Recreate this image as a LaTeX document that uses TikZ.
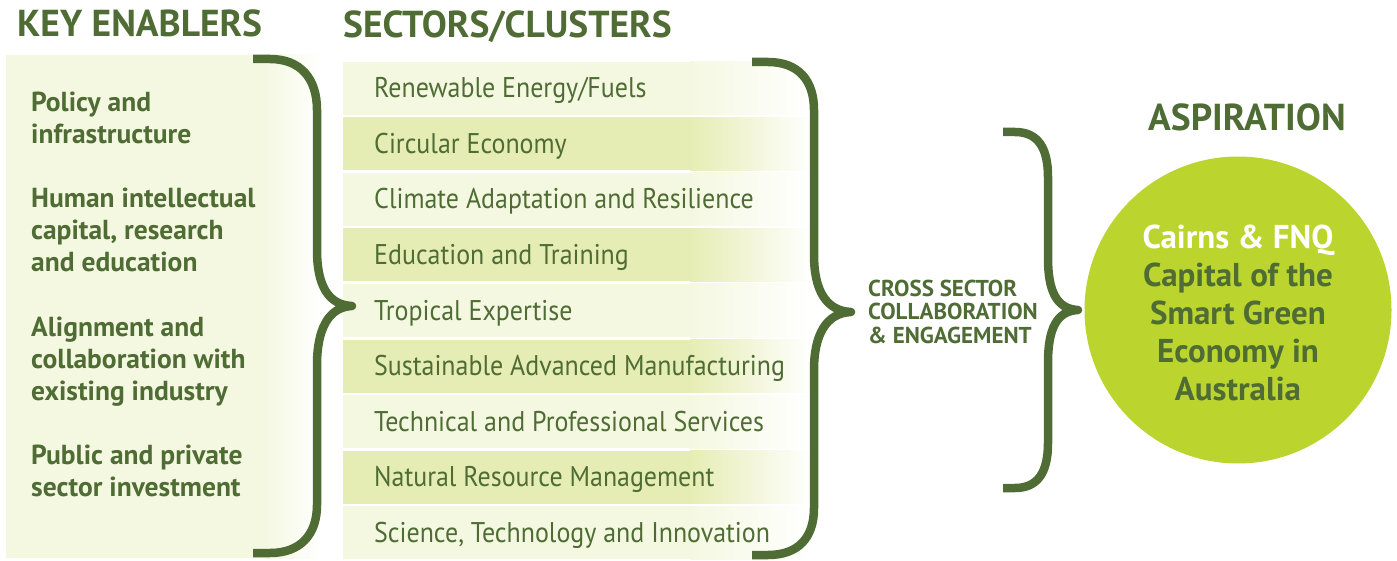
\documentclass[tikz,border=0pt]{standalone}
\usepackage{fontspec}
\setmainfont{PT Sans}
\newfontfamily\sectorfont[FakeStretch=0.91]{PT Sans}
\definecolor{dgreen}{RGB}{78,108,52}
\definecolor{panel}{RGB}{245,248,225}
\definecolor{rowdark}{RGB}{230,237,180}
\definecolor{lime}{RGB}{187,213,46}
\tikzset{
  header/.style={text=dgreen,font=\bfseries\fontsize{37.5}{37.5}\selectfont,inner sep=0pt,anchor=base west},
  enabler/.style={text=dgreen,font=\bfseries\fontsize{27.5}{32}\selectfont,inner sep=0pt,anchor=base west,align=left},
  sectortext/.style={text=dgreen,font=\sectorfont\fontsize{28.5}{28.5}\selectfont,inner sep=0pt,anchor=base west},
  crosstext/.style={text=dgreen,font=\bfseries\fontsize{23}{23.5}\selectfont,inner sep=0pt,anchor=base west,align=left},
  aimtext/.style={text=dgreen,font=\bfseries\fontsize{33}{38}\selectfont,inner sep=0pt,anchor=base,align=center},
  bracestroke/.style={draw=dgreen,line width=8.5pt,line cap=butt,line join=round},
}
\begin{document}
\begin{tikzpicture}[x=1pt,y=-1pt]
\useasboundingbox (0,0) rectangle (1397,561);
% enabler panel
\fill[panel] (6,55) rectangle (266,558);
\shade[left color=panel,right color=white] (265,55) rectangle (322,558);
% sector rows
\foreach \i/\c/\t in {0/panel/{Renewable Energy/Fuels},1/rowdark/{Circular Economy},2/panel/{Climate Adaptation and Resilience},3/rowdark/{Education and Training},4/panel/{Tropical Expertise},5/rowdark/{Sustainable Advanced Manufacturing},6/panel/{Technical and Professional Services},7/rowdark/{Natural Resource Management},8/panel/{Science, Technology and Innovation}}{
  \fill[\c] (343,{62+55.5*\i}) rectangle (691,{115+55.5*\i});
  \shade[left color=\c,right color=white] (690,{62+55.5*\i}) rectangle (812,{115+55.5*\i});
  \node[sectortext] (s\i) at (374,{98+55.5*\i}) {\t};
}
% headers
\node[header] (hkey) at (17,37) {KEY ENABLERS};
\node[header] (hsec) at (343,38) {SECTORS/CLUSTERS};
\node[header] (hasp) at (1148,131) {ASPIRATION};
% enablers (anchored at the baseline of the last line)
\node[enabler] (e1) at (31,144) {Policy and\\infrastructure};
\node[enabler] (e2) at (31,272) {Human intellectual\\capital, research\\and education};
\node[enabler] (e3) at (31,400) {Alignment and\\collaboration with\\existing industry};
\node[enabler] (e4) at (31,496) {Public and private\\sector investment};
% braces
\draw[bracestroke] (253,59) -- (270,59) .. controls (300,59) and (317,78) .. (317,110)
  -- (317,250) .. controls (317,285) and (328,305) .. (352,306)
  .. controls (328,307) and (317,330) .. (317,365)
  -- (317,505) .. controls (317,535) and (300,553) .. (270,553) -- (253,553);
\draw[bracestroke] (752,62) -- (768,62) .. controls (798,62) and (814,80) .. (814,110)
  -- (814,255) .. controls (814,290) and (826,311) .. (851,312)
  .. controls (826,313) and (814,335) .. (814,370)
  -- (814,508) .. controls (814,538) and (798,555) .. (768,555) -- (752,555);
\draw[bracestroke] (1003,132) -- (1015,132) .. controls (1038,132) and (1048,148) .. (1048,177)
  -- (1048,258) .. controls (1048,290) and (1056,309) .. (1078,310)
  .. controls (1056,311) and (1048,330) .. (1048,363)
  -- (1048,443) .. controls (1048,472) and (1038,488) .. (1015,488) -- (1003,488);
% cross sector text
\node[crosstext] (cross) at (868,343) {CROSS SECTOR\\COLLABORATION\\\& ENGAGEMENT};
% aspiration circle
\node[circle,fill=lime,minimum size=307pt,inner sep=0pt] (circ) at (1238,310) {};
\node[aimtext] (aim) at (1238,400) {\textcolor{white}{Cairns \& FNQ}\\Capital of the\\Smart Green\\Economy in\\Australia};
\end{tikzpicture}
\end{document}
